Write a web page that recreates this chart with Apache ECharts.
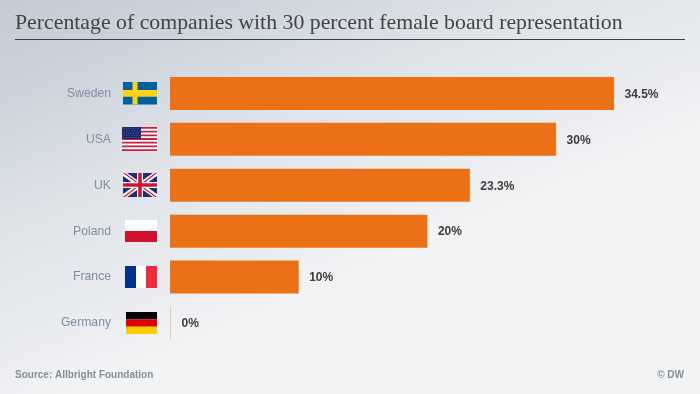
<!DOCTYPE html>
<html>
<head>
<meta charset="utf-8">
<style>
  html, body { margin: 0; padding: 0; }
  #chart {
    width: 700px; height: 394px;
    background: linear-gradient(157deg, #c3ccd6 0%, #cbd3dc 14%, #dfe3e8 33%, #ebedf0 53%, #f2f3f5 60%, #f2f3f5 100%);
  }
</style>
<script src="https://cdn.jsdelivr.net/npm/echarts@6/dist/echarts.min.js"></script>
</head>
<body>
<div id="chart"></div>
<script>
const countries = ["Sweden", "USA", "UK", "Poland", "France", "Germany"];
const shares = [34.5, 30, 23.3, 20, 10, 0];
const valueLabels = ["34.5%", "30%", "23.3%", "20%", "10%", "0%"];
const flagCodes = ["se", "us", "gb", "pl", "fr", "de"];

const orange = "#ec7016";
const sansFont = '"Liberation Sans", Arial, sans-serif';

function box(x, y, width, height, fill) {
  return { type: "rect", shape: { x, y, width, height }, style: { fill } };
}
function poly(points, fill) {
  return { type: "polygon", shape: { points }, style: { fill } };
}

// each flag is drawn in its own little box, origin top left
const flagDrawers = {
  se() {
    return { w: 34, h: 22.5, parts: [
      box(0, 0, 34, 22.5, "#02609e"),
      box(0, 8, 34, 6.7, "#fdd20e"),
      box(9.5, 0, 5, 22.5, "#fdd20e")
    ] };
  },
  us() {
    const parts = [box(0, 0, 35, 24, "#ffffff")];
    for (let i = 0; i < 13; i += 2) parts.push(box(0, i * 24 / 13, 35, 24 / 13, "#c4213f"));
    parts.push(box(0, 0, 19, 12, "#1c2a6b"));
    for (let r = 0; r < 5; r++) {
      for (let c = 0; c < 7; c++) {
        parts.push(box(1.2 + c * 2.5 + (r % 2), 1.2 + r * 2.2, 0.9, 0.9, "#5a65a0"));
      }
    }
    return { w: 35, h: 24, parts };
  },
  gb() {
    const w = 34, h = 24;
    return { w, h, parts: [
      box(0, 0, w, h, "#1f2f72"),
      poly([[0, 0], [4, 0], [34, 21], [34, 24], [30, 24], [0, 3]], "#ffffff"),
      poly([[34, 0], [30, 0], [0, 21], [0, 24], [4, 24], [34, 3]], "#ffffff"),
      poly([[0, 0], [2, 0], [17, 11], [15, 11]], "#d2142e"),
      poly([[34, 24], [32, 24], [17, 13], [19, 13]], "#d2142e"),
      poly([[34, 0], [32, 0], [18, 11], [20, 11]], "#d2142e"),
      poly([[0, 24], [2, 24], [16, 13], [14, 13]], "#d2142e"),
      box(14, 0, 6, h, "#ffffff"),
      box(0, 9, w, 6, "#ffffff"),
      box(15.2, 0, 3.6, h, "#d2142e"),
      box(0, 10.2, w, 3.6, "#d2142e")
    ] };
  },
  pl() {
    return { w: 32, h: 22, parts: [
      box(0, 0, 32, 11, "#ffffff"),
      box(0, 11, 32, 11, "#d0122c")
    ] };
  },
  fr() {
    return { w: 32, h: 22, parts: [
      box(0, 0, 11, 22, "#00318f"),
      box(11, 0, 10, 22, "#ffffff"),
      box(21, 0, 11, 22, "#ee2a3c")
    ] };
  },
  de() {
    return { w: 31, h: 22, parts: [
      box(0, 0, 31, 7.3, "#000000"),
      box(0, 7.3, 31, 7.4, "#dd0000"),
      box(0, 14.7, 31, 7.3, "#ffcc00")
    ] };
  }
};

function renderFlag(params, api) {
  const idx = api.value(1);
  const pos = api.coord([0, idx]);
  const flag = flagDrawers[flagCodes[idx]]();
  return {
    type: "group",
    x: pos[0] - 13 - flag.w,
    y: Math.round(pos[1] - flag.h / 2),
    children: flag.parts
  };
}

const myChart = echarts.init(document.getElementById("chart"));
const option = {
  animation: false,
  title: {
    text: "Percentage of companies with 30 percent female board representation",
    left: 10,
    top: 7,
    textStyle: {
      fontFamily: '"Liberation Serif", Georgia, serif',
      fontWeight: "normal",
      fontSize: 21.8,
      color: "#444444"
    }
  },
  grid: { left: 170, top: 70.5, width: 514.8, height: 275.4 },
  xAxis: { type: "value", min: 0, max: 40, show: false },
  yAxis: {
    type: "category",
    inverse: true,
    data: countries,
    axisLine: { show: false },
    axisTick: { show: false },
    axisLabel: {
      margin: 59,
      fontFamily: sansFont,
      fontSize: 12.2,
      color: "#7e8ea2"
    }
  },
  series: [
    {
      type: "bar",
      barWidth: 33,
      barMinHeight: 1,
      data: shares.map(function (v) {
        return { value: v, itemStyle: { color: v === 0 ? "#f2c8a6" : orange } };
      }),
      label: {
        show: true,
        position: "right",
        distance: 10.5,
        offset: [0, 1],
        fontFamily: sansFont,
        fontWeight: "bold",
        fontSize: 12,
        color: "#3c3c3c",
        formatter: function (p) { return valueLabels[p.dataIndex]; }
      }
    },
    {
      type: "custom",
      silent: true,
      renderItem: renderFlag,
      encode: { x: 0, y: 1 },
      data: countries.map(function (c, i) { return [0, i]; })
    }
  ],
  graphic: [
    {
      type: "line",
      silent: true,
      shape: { x1: 15, y1: 39.5, x2: 685, y2: 39.5 },
      style: { stroke: "#3a3f44", lineWidth: 1 }
    },
    {
      type: "text",
      silent: true,
      left: 15,
      top: 370,
      style: {
        text: "Source: Allbright Foundation",
        font: 'bold 10px "Liberation Sans", Arial, sans-serif',
        fill: "#8a8d91"
      }
    },
    {
      type: "text",
      silent: true,
      right: 16,
      top: 370,
      style: {
        text: "© DW",
        font: 'bold 10px "Liberation Sans", Arial, sans-serif',
        fill: "#8a8d91"
      }
    }
  ]
};
myChart.setOption(option);
</script>
</body>
</html>
